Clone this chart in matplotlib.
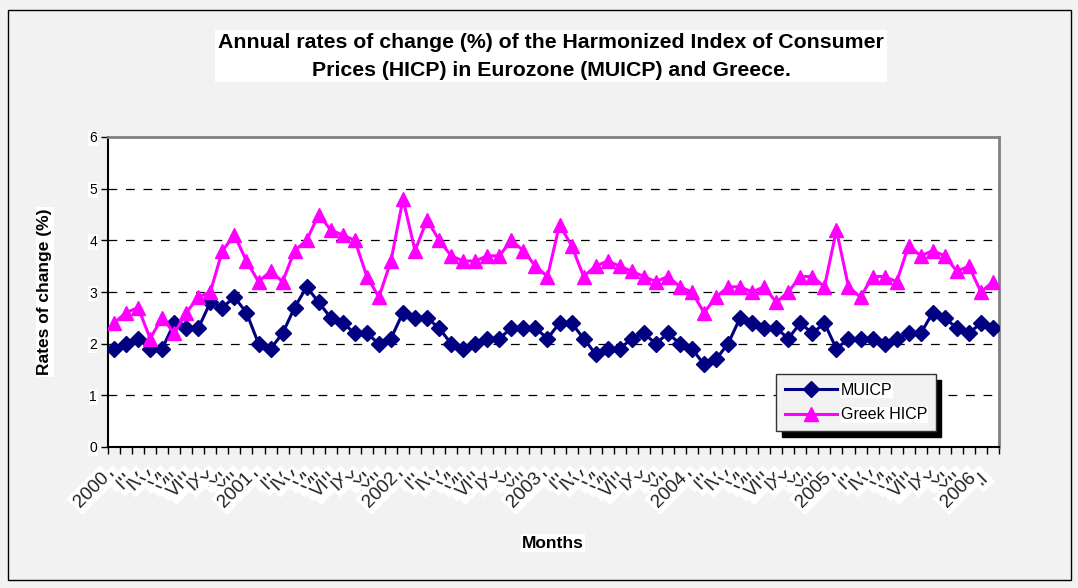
import matplotlib
matplotlib.use("Agg")
import matplotlib.pyplot as plt
from matplotlib.patches import Rectangle
import matplotlib.transforms as mtransforms
import numpy as np

plt.rcParams['font.family'] = ['Liberation Sans', 'DejaVu Sans']

years = [2000, 2001, 2002, 2003, 2004, 2005, 2006]
roman = ['I', 'II', 'III', 'IV', 'V', 'VI', 'VII', 'VIII', 'IX', 'X', 'XI', 'XII']

muicp = [1.9, 2.0, 2.1, 1.9, 1.9, 2.4, 2.3, 2.3, 2.8, 2.7, 2.9, 2.6,
         2.0, 1.9, 2.2, 2.7, 3.1, 2.8, 2.5, 2.4, 2.2, 2.2, 2.0, 2.1,
         2.6, 2.5, 2.5, 2.3, 2.0, 1.9, 2.0, 2.1, 2.1, 2.3, 2.3, 2.3,
         2.1, 2.4, 2.4, 2.1, 1.8, 1.9, 1.9, 2.1, 2.2, 2.0, 2.2, 2.0,
         1.9, 1.6, 1.7, 2.0, 2.5, 2.4, 2.3, 2.3, 2.1, 2.4, 2.2, 2.4,
         1.9, 2.1, 2.1, 2.1, 2.0, 2.1, 2.2, 2.2, 2.6, 2.5, 2.3, 2.2,
         2.4, 2.3]

greek = [2.4, 2.6, 2.7, 2.1, 2.5, 2.2, 2.6, 2.9, 3.0, 3.8, 4.1, 3.6,
         3.2, 3.4, 3.2, 3.8, 4.0, 4.5, 4.2, 4.1, 4.0, 3.3, 2.9, 3.6,
         4.8, 3.8, 4.4, 4.0, 3.7, 3.6, 3.6, 3.7, 3.7, 4.0, 3.8, 3.5,
         3.3, 4.3, 3.9, 3.3, 3.5, 3.6, 3.5, 3.4, 3.3, 3.2, 3.3, 3.1,
         3.0, 2.6, 2.9, 3.1, 3.1, 3.0, 3.1, 2.8, 3.0, 3.3, 3.3, 3.1,
         4.2, 3.1, 2.9, 3.3, 3.3, 3.2, 3.9, 3.7, 3.8, 3.7, 3.4, 3.5,
         3.0, 3.2]

labels = []
for i in range(len(muicp)):
    y, m = divmod(i, 12)
    labels.append(str(years[y]) if m == 0 else roman[m])

W, H = 1078, 588
fig = plt.figure(figsize=(W / 100, H / 100), dpi=100)
fig.patch.set_facecolor('#f2f2f2')

# outer frame
fig.add_artist(Rectangle((8 / W, 1 - 580 / H), (1071 - 8) / W, (580 - 10) / H,
                         transform=fig.transFigure, fill=False,
                         edgecolor='black', lw=1.0))

ax = fig.add_axes([108 / W, 1 - 447 / H, (999 - 108) / W, (447 - 137) / H])
ax.set_facecolor('white')

x = np.arange(len(muicp))
ax.plot(x, muicp, color='#000080', marker='D', markersize=8, lw=2.2,
        label='MUICP', zorder=3)
ax.plot(x, greek, color='#ff00ff', marker='^', markersize=10, lw=2.2,
        label='Greek HICP', zorder=3)

ax.set_xlim(-0.5, len(muicp) - 0.5)
ax.set_ylim(0, 6)
ax.set_yticks(range(0, 7))
for yv in range(1, 6):
    ax.axhline(yv, color='black', lw=0.9, ls=(0, (7, 7)), zorder=1)

# spines
for s in ['left', 'bottom']:
    ax.spines[s].set_color('black')
    ax.spines[s].set_linewidth(1.5)
for s in ['top', 'right']:
    ax.spines[s].set_color('#808080')
    ax.spines[s].set_linewidth(2)

ax.tick_params(axis='y', direction='out', length=5, width=1, labelsize=10, pad=3)
for t in ax.get_yticklabels():
    t.set_bbox(dict(facecolor='white', edgecolor='none', pad=0.5))

ax.set_xticks(np.arange(-0.5, len(muicp)), minor=True)
ax.set_xticks(x)
ax.set_xticklabels([''] * len(x))
ax.tick_params(axis='x', which='minor', direction='out', length=5, width=1)
ax.tick_params(axis='x', which='major', length=0)

# month labels: later labels overlap earlier ones; year labels on top
offset = mtransforms.ScaledTranslation(-10 / 72, -16 / 72, fig.dpi_scale_trans)
trans = ax.get_xaxis_transform() + offset
for i, lab in enumerate(labels):
    is_year = (i % 12 == 0)
    ax.text(x[i], 0, lab, transform=trans, rotation=45, ha='right', va='top',
            rotation_mode='anchor', fontsize=13.5, clip_on=False,
            color='#222222',
            zorder=20 + (100 if is_year else 0) + i * 0.01,
            bbox=dict(facecolor='white', edgecolor='none', pad=2))

# title
fig.text(551 / W, 1 - 56 / H,
         'Annual rates of change (%) of the Harmonized Index of Consumer\n'
         'Prices (HICP) in Eurozone (MUICP) and Greece.',
         ha='center', va='center', fontsize=15.3, fontweight='bold',
         linespacing=1.6,
         bbox=dict(facecolor='white', edgecolor='none', pad=2))

fig.text(45 / W, 1 - 292 / H, 'Rates of change (%)', rotation=90,
         ha='center', va='center', fontsize=12.5, fontweight='bold',
         bbox=dict(facecolor='white', edgecolor='none', pad=1))
fig.text(553 / W, 1 - 543 / H, 'Months', ha='center', va='center',
         fontsize=12.5, fontweight='bold',
         bbox=dict(facecolor='white', edgecolor='none', pad=1))

leg = ax.legend(loc='upper left',
                bbox_to_anchor=(776 / W, 1 - 374 / H),
                bbox_transform=fig.transFigure,
                fontsize=11.5, handlelength=3.3, frameon=True,
                fancybox=False, borderaxespad=0, borderpad=0.55,
                labelspacing=0.6, handletextpad=0.2,
                shadow={'ox': 4, 'oy': -4, 'color': 'black', 'alpha': 1})
leg.set_zorder(200)
leg.get_frame().set_facecolor('#f2f2f2')
leg.get_frame().set_edgecolor('#333333')
leg.get_frame().set_linewidth(1)
leg.get_frame().set_alpha(1)
for t in leg.get_texts():
    t.set_bbox(dict(facecolor='white', edgecolor='none', pad=0.5))

fig.savefig('out.png', dpi=100, facecolor=fig.get_facecolor())
